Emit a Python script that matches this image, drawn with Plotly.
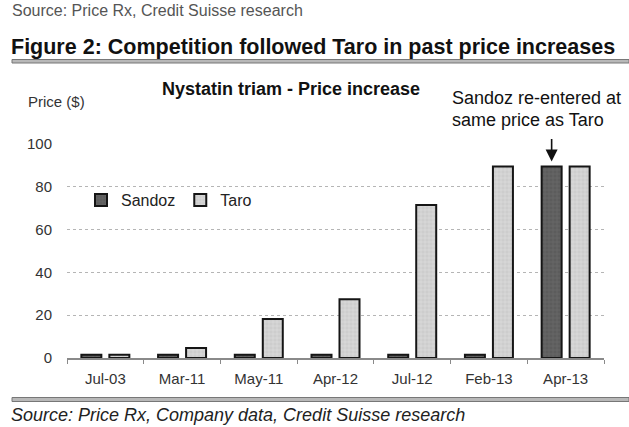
import plotly.graph_objects as go

categories = ["Jul-03", "Mar-11", "May-11", "Apr-12", "Jul-12", "Feb-13", "Apr-13"]
sandoz = [1.5, 1.5, 1.5, 1.5, 1.5, 1.5, 89.5]
taro = [1.5, 4.7, 18.2, 27.5, 71.5, 89.5, 89.5]
y_ticks = [0, 20, 40, 60, 80, 100]

FONT = "Liberation Sans, Arial, sans-serif"
W, H = 629, 427
L, R, T, B = 67, 25, 144, 69
PW, PH = W - L - R, H - T - B


def px(x):
    return (x - L) / PW


def py(y):
    return (H - B - y) / PH


fig = go.Figure()
fig.add_trace(go.Bar(
    x=categories, y=sandoz, name="Sandoz",
    marker=dict(color="#5c5c5c", line=dict(color="#151515", width=2),
                pattern=dict(shape="+", fgcolor="#787878", size=4, solidity=0.3)),
))
fig.add_trace(go.Bar(
    x=categories, y=taro, name="Taro",
    marker=dict(color="#cdcdcd", line=dict(color="#151515", width=2),
                pattern=dict(shape="+", fgcolor="#ececec", size=4, solidity=0.3)),
))

fig.update_layout(
    width=W, height=H,
    margin=dict(l=L, r=R, t=T, b=B),
    paper_bgcolor="white", plot_bgcolor="white",
    barmode="group", bargap=0.27, bargroupgap=0.286,
    font=dict(family=FONT, size=15, color="#333333"),
    showlegend=True,
    legend=dict(orientation="h", x=px(81), y=py(200), xanchor="left", yanchor="middle",
                font=dict(size=16, color="#222222"), bgcolor="rgba(0,0,0,0)",
                itemwidth=30, traceorder="normal"),
)
fig.update_yaxes(
    range=[0, 100], tickvals=y_ticks, showgrid=True, gridcolor="#b5b5b5",
    griddash="dot", gridwidth=1, zeroline=False, showline=False,
    ticks="", ticklabelstandoff=14, tickfont=dict(size=15, color="#333333"),
)
fig.update_xaxes(
    showline=True, linecolor="#8a8a8a", linewidth=1.5,
    ticks="outside", tickson="boundaries", ticklen=4, tickcolor="#8a8a8a",
    tickfont=dict(size=15, color="#333333"), ticklabelstandoff=6,
)


def label(text, x, y, size, color="#111111", anchor="left", **kw):
    fig.add_annotation(text=text, xref="paper", yref="paper", x=px(x), y=py(y),
                       xanchor=anchor, yanchor="middle", showarrow=False,
                       font=dict(family=FONT, size=size, color=color), **kw)


# double rules under the title and above the source line (shapes drawn first)
for y0, y1 in ((59.5, 63.0), (397.5, 401.5)):
    fig.add_shape(type="rect", xref="paper", yref="paper", x0=px(12), x1=px(629),
                  y0=py(y0), y1=py(y1), layer="above",
                  fillcolor="#b8b8b8", line=dict(color="#777777", width=1))

label("Source: Price Rx, Credit Suisse research", 10, 10, 16, color="#555555")
label("<b>Figure 2: Competition followed Taro in past price increases</b>", 9, 47, 21.5)
label("Price ($)", 26, 101, 15, color="#333333")
label("<b>Nystatin triam - Price increase</b>", 160, 89, 18)
label("Sandoz re-entered at", 450, 98, 18)
label("same price as Taro", 450, 120, 18)
label("<i>Source: Price Rx, Company data, Credit Suisse research</i>", 9, 415, 18, color="#222222")

fig.add_annotation(x=categories[-1], y=sandoz[-1], xref="x", yref="y", xshift=-14, yshift=5,
                   text="", showarrow=True, arrowhead=2, arrowsize=1.5, arrowwidth=1.6,
                   arrowcolor="#111111", ax=0, ay=-24)

fig.write_html("out.html", config={"displayModeBar": False},
               post_script="document.body.style.margin='0';")
